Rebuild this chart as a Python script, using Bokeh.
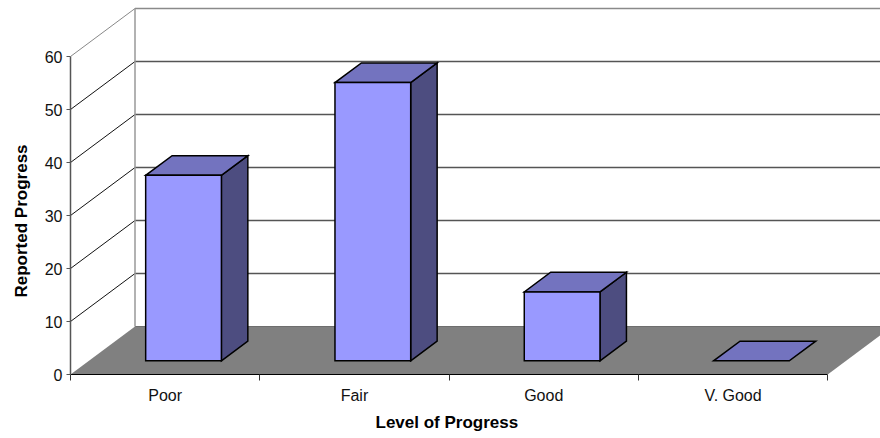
from bokeh.embed import file_html
from bokeh.models import FixedTicker, LinearAxis, Range1d, Title
from bokeh.plotting import figure
from bokeh.resources import INLINE

categories = ["Poor", "Fair", "Good", "V. Good"]
progress = [35, 52.5, 13, 0]
value_ticks = [0, 10, 20, 30, 40, 50, 60]

# Oblique projection: a unit of depth shifts a point right and up, in data units.
PX_PER_CAT = 189.3
PX_PER_VAL = 5.3
SHIFT_X = 64.5 / PX_PER_CAT
SHIFT_Y = 48.0 / PX_PER_VAL
BAR_WIDTH = 0.4
DEPTH_FRONT = 0.285
DEPTH_BACK = 0.695
FONT = "Liberation Sans"

FRAME_W, FRAME_H = 810, 374
x_max = FRAME_W / PX_PER_CAT
y_max = FRAME_H / PX_PER_VAL
n = len(categories)
top_value = value_ticks[-1]


def project(x, y, depth):
    return x + SHIFT_X * depth, y + SHIFT_Y * depth


p = figure(
    width=880, height=438, frame_width=FRAME_W, frame_height=FRAME_H,
    x_range=Range1d(0, x_max), y_range=Range1d(0, y_max),
    output_backend="svg", toolbar_location=None, x_axis_location=None, y_axis_location=None,
    min_border_left=70, min_border_right=0, min_border_top=0, min_border_bottom=64,
)
p.outline_line_color = None
p.grid.visible = False
p.background_fill_color = "white"

# Floor of the chart box.
corners = [project(0, 0, 0), project(n, 0, 0), project(n, 0, 1), project(0, 0, 1)]
p.patch([c[0] for c in corners], [c[1] for c in corners], fill_color="#808080", line_color=None)
bx0, by0 = project(0, 0, 1)
bx1, _ = project(n, 0, 1)
p.line([bx0, bx1], [by0, by0], line_color="#6e6e6e", line_width=1.2)

# Gridlines across the side wall and the back wall.
for v in value_ticks[1:]:
    wx, wy = project(0, v, 1)
    ex, _ = project(n, v, 1)
    is_top = v == top_value
    p.line([0, wx], [v, wy], line_color="#888888" if is_top else "#111111", line_width=1)
    p.line([wx, ex], [wy, wy], line_color="#8a8a8a" if is_top else "#555555", line_width=1.3)
tx, ty = project(0, top_value, 1)
p.line([tx, tx], [by0, ty], line_color="#999999", line_width=1.5)

# Each bar is a box of three visible faces.
for i, val in enumerate(progress):
    left = i + 0.5 - BAR_WIDTH / 2
    right = i + 0.5 + BAR_WIDTH / 2
    a = project(left, 0, DEPTH_FRONT)
    b = project(right, 0, DEPTH_FRONT)
    c = project(right, val, DEPTH_FRONT)
    d = project(left, val, DEPTH_FRONT)
    e = project(right, val, DEPTH_BACK)
    f = project(left, val, DEPTH_BACK)
    g = project(right, 0, DEPTH_BACK)
    style = dict(line_color="black", line_width=1.5, line_join="miter")
    if val > 0:
        p.patch([b[0], g[0], e[0], c[0]], [b[1], g[1], e[1], c[1]], fill_color="#4d4d80", **style)
    p.patch([d[0], c[0], e[0], f[0]], [d[1], c[1], e[1], f[1]], fill_color="#7373bf", **style)
    if val > 0:
        p.patch([a[0], b[0], c[0], d[0]], [a[1], b[1], c[1], d[1]], fill_color="#9999ff", **style)

yaxis = LinearAxis(bounds=(0, top_value), ticker=FixedTicker(ticks=value_ticks))
yaxis.axis_line_color = "#555555"
yaxis.axis_line_width = 1.5
yaxis.major_tick_line_color = "#555555"
yaxis.major_tick_in = 0
yaxis.major_tick_out = 4
yaxis.minor_tick_line_color = None
yaxis.major_label_text_font = FONT
yaxis.major_label_text_font_size = "16px"
yaxis.major_label_text_color = "#111111"
yaxis.major_label_standoff = 4
p.add_layout(yaxis, "left")

xaxis = LinearAxis(
    bounds=(0, n),
    ticker=FixedTicker(ticks=[i + 0.5 for i in range(n)], minor_ticks=list(range(n + 1))),
    major_label_overrides={i + 0.5: name for i, name in enumerate(categories)},
)
xaxis.axis_line_color = "black"
xaxis.axis_line_width = 1.2
xaxis.major_tick_line_color = None
xaxis.major_tick_in = 0
xaxis.major_tick_out = 0
xaxis.minor_tick_line_color = "#333333"
xaxis.minor_tick_in = 0
xaxis.minor_tick_out = 6
xaxis.major_label_text_font = FONT
xaxis.major_label_text_font_size = "16px"
xaxis.major_label_text_color = "#111111"
xaxis.major_label_standoff = 6
p.add_layout(xaxis, "below")

# Axis titles are offset along the frame so they centre on the axis spans.
title_style = dict(
    text_font=FONT, text_font_size="17px", text_font_style="bold", text_color="black", align="left",
)
p.add_layout(Title(text="Level of Progress", offset=305, standoff=8, vertical_align="bottom", **title_style), "below")
p.add_layout(Title(text="Reported Progress", offset=77, standoff=18, vertical_align="top", **title_style), "left")

open("out.html", "w").write(file_html(p, INLINE))
